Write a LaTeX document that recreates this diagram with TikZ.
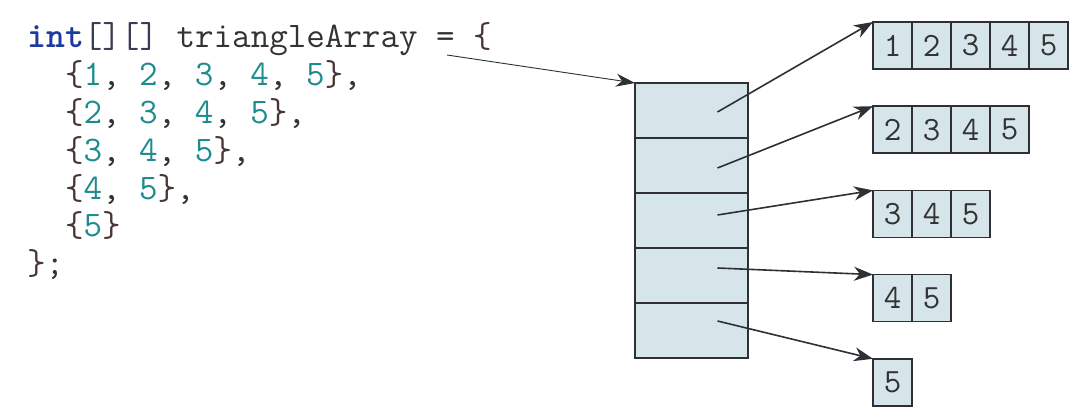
\documentclass[tikz,border=0pt]{standalone}
\usepackage{fontspec}
\usetikzlibrary{arrows.meta,positioning}

\definecolor{kwblue}{HTML}{1F3A9E}
\definecolor{brk}{HTML}{3B3B55}
\definecolor{brc}{HTML}{4A3535}
\definecolor{numteal}{HTML}{1E8C8F}
\definecolor{txt}{HTML}{333333}
\definecolor{cellfill}{HTML}{D5E5E9}
\definecolor{edge}{HTML}{2E3035}

\newcommand{\nm}[1]{\textcolor{numteal}{#1}}
\newcommand{\lb}{\textcolor{brc}{\{}}
\newcommand{\rb}{\textcolor{brc}{\}}}

\begin{document}
\begin{tikzpicture}[x=1pt,y=1pt,
    code/.style={anchor=base west,inner sep=0pt,text=txt,
      font=\ttfamily\fontsize{36}{37.8}\selectfont},
    ptrcell/.style={draw=edge,fill=cellfill,line width=1.6pt,
      minimum width=113pt,minimum height=55pt,inner sep=0pt,outer sep=0pt},
    cell/.style={draw=edge,fill=cellfill,line width=1.6pt,text=txt,
      minimum width=39pt,minimum height=47pt,inner sep=0pt,outer sep=0pt,
      font=\ttfamily\fontsize{34}{34}\selectfont},
    ptr/.style={draw=edge,line width=1.6pt,
      -{Stealth[length=19pt,width=14pt,inset=6pt]}},
    ref/.style={draw=edge,line width=0.9pt,
      -{Stealth[length=19pt,width=13pt,inset=6pt]}}]
  \useasboundingbox (0,0) rectangle (1085,-419);

  % the declaration
  \node[code] (line1) at (27,-48)
    {\textcolor{kwblue}{\bfseries int}\textcolor{brk}{[][]} triangleArray = \lb};
  \node[code] (line2) at (64.8,-85.8) {\lb\nm1, \nm2, \nm3, \nm4, \nm5\rb,};
  \node[code] (line3) at (64.8,-123.6) {\lb\nm2, \nm3, \nm4, \nm5\rb,};
  \node[code] (line4) at (64.8,-161.4) {\lb\nm3, \nm4, \nm5\rb,};
  \node[code] (line5) at (64.8,-199.2) {\lb\nm4, \nm5\rb,};
  \node[code] (line6) at (64.8,-237) {\lb\nm5\rb};
  \node[code] (line7) at (27,-274.8) {\rb;};

  % array of references
  \node[ptrcell] (ptr1) at (691.5,-110.5) {};
  \foreach \r [evaluate=\r as \p using int(\r-1)] in {2,...,5}
    \node[ptrcell,below=0pt of ptr\p] (ptr\r) {};

  % the rows
  \foreach \r in {1,...,5} {
    \foreach \c in {\r,...,5} {
      \pgfmathtruncatemacro\p{\c-1}
      \ifnum\c=\r
        \node[cell,anchor=north west] (row\r-\c) at (873,{-22-84.2*(\r-1)}) {\c};
      \else
        \node[cell,right=0pt of row\r-\p] (row\r-\c) {\c};
      \fi
    }
  }

  % references
  \coordinate (decl) at (447,-55);
  \draw[ref] (decl) -- (ptr1.north west);
  \foreach \r/\dy in {1/-1.5,2/-2.5,3/5.5,4/7.5,5/9.5}
    \draw[ptr] ([shift={(26,\dy)}]ptr\r.center) -- (row\r-\r.north west);
\end{tikzpicture}
\end{document}
